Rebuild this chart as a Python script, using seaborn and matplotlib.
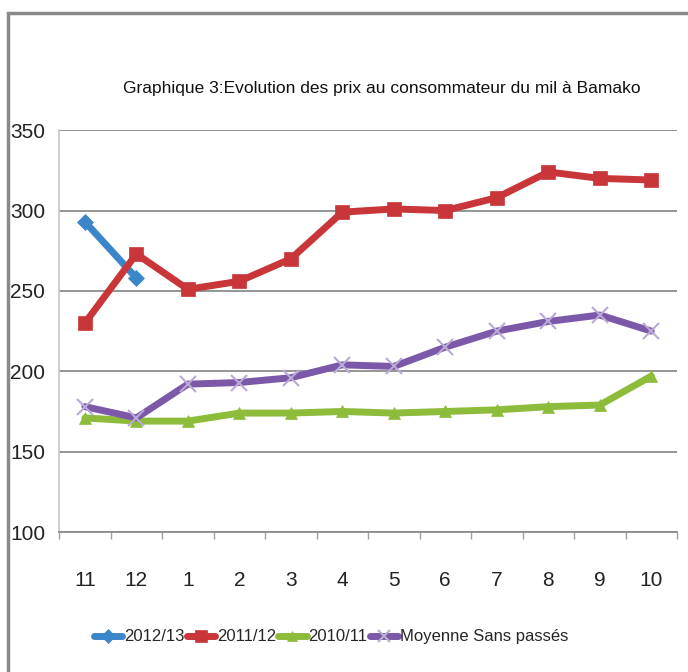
import pandas as pd
import numpy as np
import matplotlib
matplotlib.use("Agg")
import matplotlib.pyplot as plt
import seaborn as sns
from matplotlib.patches import Rectangle

# Données
mois = ['11', '12', '1', '2', '3', '4', '5', '6', '7', '8', '9', '10']
prix_2012_13 = [293, 258] + [np.nan] * 10
prix_2011_12 = [230, 273, 251, 256, 270, 299, 301, 300, 308, 324, 320, 319]
prix_2010_11 = [171, 169, 169, 174, 174, 175, 174, 175, 176, 178, 179, 197]
moyenne = [178, 171, 192, 193, 196, 204, 203, 215, 225, 231, 235, 225]

series = {
    '2012/13': (prix_2012_13, '#3a86c8', 'D', 8),
    '2011/12': (prix_2011_12, '#c8363a', 's', 10),
    '2010/11': (prix_2010_11, '#8dbb3a', '^', 9),
    'Moyenne Sans passés': (moyenne, '#7b58a8', 'x', 11),
}

sns.set_theme(style="white")
plt.rcParams['font.family'] = ['Liberation Sans', 'DejaVu Sans']

fig = plt.figure(figsize=(6.88, 6.72), dpi=100)
ax = fig.add_axes([0.086, 0.2083, 0.898, 0.598])

x = np.arange(len(mois))
for nom, (vals, couleur, marqueur, taille) in series.items():
    df = pd.DataFrame({'x': x, 'prix': vals}).dropna()
    mec = couleur if marqueur != 'x' else '#b9a9d6'
    sns.lineplot(data=df, x='x', y='prix', ax=ax, color=couleur, lw=5,
                 marker=marqueur, markersize=taille, markeredgecolor=mec,
                 markeredgewidth=1.5 if marqueur == 'x' else 0.5, label=nom)

ax.set_xlim(-0.5, 11.5)
ax.set_ylim(100, 350)
ax.set_yticks([100, 150, 200, 250, 300, 350])
ax.set_xticks(x)
ax.set_xticklabels(mois)
ax.set_xticks(np.arange(-0.5, 12, 1), minor=True)
ax.tick_params(axis='x', which='major', length=0, pad=28, labelsize=15,
               labelcolor='#222222')
ax.tick_params(axis='x', which='minor', length=5, color='#a0a0a0', width=1,
               bottom=True)
ax.tick_params(axis='y', length=0, pad=10, labelsize=15, labelcolor='#222222')
ax.grid(axis='y', color='#8c8c8c', lw=1.3)
ax.set_axisbelow(True)
for s in ['top', 'right']:
    ax.spines[s].set_visible(False)
ax.spines['left'].set_color('#c8c8c8')
ax.spines['bottom'].set_color('#8c8c8c')
ax.spines['bottom'].set_linewidth(1.3)
ax.set_xlabel('')
ax.set_ylabel('')

fig.text(0.555, 0.868, 'Graphique 3:Evolution des prix au consommateur du mil à Bamako',
         ha='center', va='center', fontsize=12.5, color='#111111')

ax.legend(loc='upper center', bbox_to_anchor=(0.44, -0.205), ncol=4,
          frameon=False, fontsize=12, handlelength=1.7, handletextpad=0.1,
          columnspacing=0.15, markerscale=0.85)

# cadre gris autour de la figure
fig.add_artist(Rectangle((0.012, -0.01), 1.0, 0.99, transform=fig.transFigure,
                         fill=False, ec='#8a8a8a', lw=2.5))

fig.savefig('out.png', dpi=100, facecolor='white')
